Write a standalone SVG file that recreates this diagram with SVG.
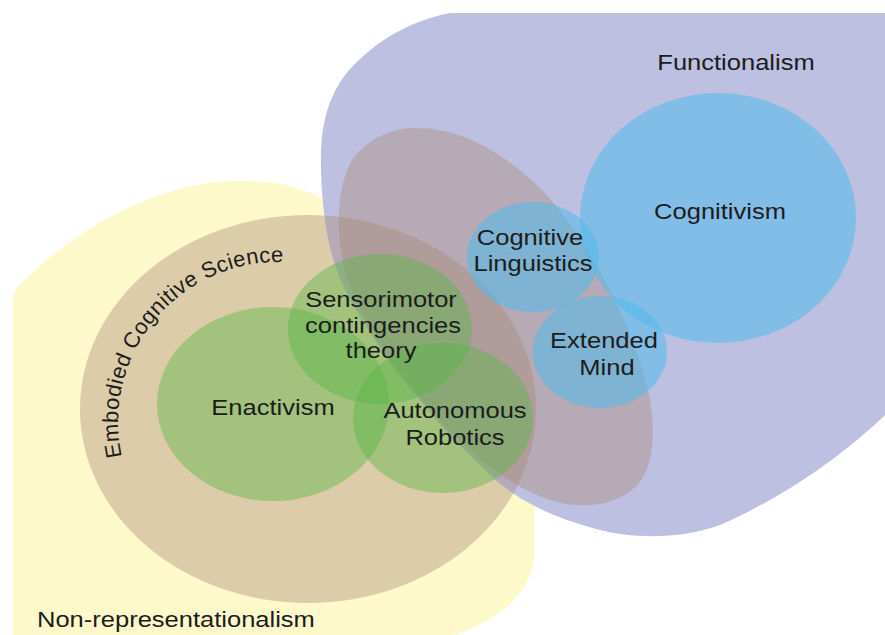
<svg xmlns="http://www.w3.org/2000/svg" width="885" height="635" viewBox="0 0 885 635">
  <style>
    .lbl { font-family: "Liberation Sans", Arial, sans-serif; font-size: 22px; fill: #1c1c1c; text-anchor: middle; }
    .arc { font-family: "Liberation Sans", Arial, sans-serif; font-size: 22px; fill: #1c1c1c; letter-spacing: 0.4px; }
    .tan { fill: rgb(170,138,118); fill-opacity: 0.4; }
    .green { fill: rgb(90,182,70); fill-opacity: 0.45; }
    .sky { fill: rgb(80,185,235); fill-opacity: 0.55; }
  </style>
  <defs>
    <!-- baseline arc for the curved region title -->
    <path id="ecs-arc" d="M123.5,463.4 A160,160 0 0 1 292,262.6"/>
  </defs>
  <rect width="885" height="635" fill="#ffffff"/>

  <!-- Non-representationalism region -->
  <g id="non-representationalism">
    <path d="M13,635 L13,298 C14,290 20,284 30,275 C80,228 150,187 225,181 C270,179 300,186 325,200 L400,300 L535,470 L534,560 C530,592 500,620 455,635 Z" fill="#fef9cb"/>
  </g>

  <!-- Functionalism region -->
  <g id="functionalism">
    <path d="M450,13 L890,13 L890,410 C860,440 800,490 720,525 C680,540 630,538 600,530 C565,521 540,510 520,498 C505,488 495,480 490,475 C465,450 445,432 430,412 C410,388 395,372 385,355 C365,325 345,295 335,265 C325,235 320,190 321,150 C322,120 330,95 345,75 C370,45 405,22 450,13 Z" fill="#bdc0e0"/>
  </g>

  <!-- Embodied Cognitive Science region: circle plus tilted lobe -->
  <g id="embodied-cognitive-science">
    <ellipse class="tan" cx="308" cy="409" rx="228" ry="194"/>
    <path class="tan" d="M416,128 C460,128 500,150 540,188 C590,240 630,320 648,390 C655,420 656,460 640,482 C625,500 600,507 575,505 C540,502 505,480 475,455 C420,405 370,340 348,280 C335,240 335,190 352,160 C368,138 392,128 416,128 Z"/>
  </g>

  <!-- Embodied approaches -->
  <g id="enactivism">
    <ellipse class="green" cx="273" cy="404" rx="116" ry="97"/>
  </g>
  <g id="sensorimotor">
    <ellipse class="green" cx="380" cy="329" rx="92" ry="75"/>
  </g>
  <g id="autonomous-robotics">
    <ellipse class="green" cx="443" cy="418" rx="90" ry="75"/>
  </g>

  <!-- Functionalist approaches -->
  <g id="cognitivism">
    <ellipse class="sky" cx="718" cy="218" rx="138" ry="125"/>
  </g>
  <g id="cognitive-linguistics">
    <ellipse class="sky" cx="533" cy="257" rx="66" ry="55"/>
  </g>
  <g id="extended-mind">
    <ellipse class="sky" cx="600" cy="352" rx="67" ry="56"/>
  </g>

  <!-- Labels -->
  <g id="labels">
    <text class="lbl" transform="translate(736,70) scale(1.16,1)">Functionalism</text>
    <text class="lbl" transform="translate(720,219) scale(1.16,1)">Cognitivism</text>
    <text class="lbl" transform="translate(530,245) scale(1.16,1)">Cognitive</text>
    <text class="lbl" transform="translate(533,271) scale(1.16,1)">Linguistics</text>
    <text class="lbl" transform="translate(604,348) scale(1.16,1)">Extended</text>
    <text class="lbl" transform="translate(607,375) scale(1.16,1)">Mind</text>
    <text class="lbl" transform="translate(381,307) scale(1.16,1)">Sensorimotor</text>
    <text class="lbl" transform="translate(383,333) scale(1.16,1)">contingencies</text>
    <text class="lbl" transform="translate(381,358) scale(1.16,1)">theory</text>
    <text class="lbl" transform="translate(273,415) scale(1.16,1)">Enactivism</text>
    <text class="lbl" transform="translate(455,418) scale(1.16,1)">Autonomous</text>
    <text class="lbl" transform="translate(455,445) scale(1.16,1)">Robotics</text>
    <text class="lbl" style="text-anchor:start" transform="translate(37,627) scale(1.16,1)">Non-representationalism</text>
    <!-- curved title, one word per run along the same arc -->
    <text class="arc"><textPath href="#ecs-arc" startOffset="7">Embodied</textPath></text>
    <text class="arc"><textPath href="#ecs-arc" startOffset="115.7">Cognitive</textPath></text>
    <text class="arc"><textPath href="#ecs-arc" startOffset="217.5">Science</textPath></text>
  </g>
</svg>
